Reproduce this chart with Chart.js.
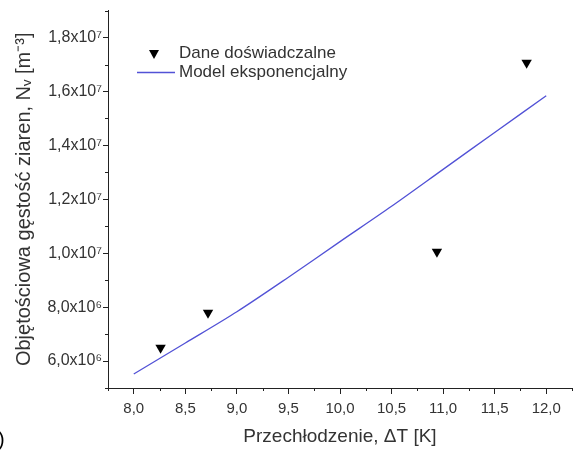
<!DOCTYPE html>
<html>
<head>
<meta charset="utf-8">
<script src="https://cdn.jsdelivr.net/npm/chart.js@4"></script>
<style>
  html, body { margin: 0; padding: 0; background: #fff; }
  #wrap { width: 578px; height: 451px; }
</style>
</head>
<body>
<div id="wrap"><canvas id="myChart"></canvas></div>
<script>
// measured points
const expX = [8.26, 8.72, 10.94, 11.81];
const expY = [6.49e6, 7.79e6, 1.005e7, 1.707e7];

// fitted model curve
const modelX = [8.0, 8.5, 9.0, 9.5, 10.0, 10.5, 11.0, 11.5, 12.0];
const modelY = [5.52e6, 6.67e6, 7.83e6, 9.11e6, 1.043e7, 1.174e7, 1.311e7, 1.448e7, 1.584e7];

const xTicks = [8.0, 8.5, 9.0, 9.5, 10.0, 10.5, 11.0, 11.5, 12.0];
const xMinor = [7.75, 8.25, 8.75, 9.25, 9.75, 10.25, 10.75, 11.25, 11.75, 12.25];
const yTicks = [6e6, 8e6, 1e7, 1.2e7, 1.4e7, 1.6e7, 1.8e7];
const yTickLabels = ['6,0x10⁶', '8,0x10⁶', '1,0x10⁷', '1,2x10⁷', '1,4x10⁷', '1,6x10⁷', '1,8x10⁷'];
const yMinor = [5e6, 7e6, 9e6, 1.1e7, 1.3e7, 1.5e7, 1.7e7, 1.9e7];

const seriesNames = ['Dane doświadczalne', 'Model eksponencjalny'];

const fontFam = '"Liberation Sans", Arial, sans-serif';
const axisColor = '#222';
const textColor = '#333';
const lineColor = '#5252d6';

const extras = {
  id: 'extras',
  afterDraw(chart) {
    const c = chart.ctx;
    const xs = chart.scales.x, ys = chart.scales.y;
    const a = chart.chartArea;
    c.save();
    c.strokeStyle = axisColor;
    c.lineWidth = 1;
    // minor ticks
    c.beginPath();
    xMinor.forEach(v => {
      const px = Math.round(xs.getPixelForValue(v)) + 0.5;
      c.moveTo(px, a.bottom); c.lineTo(px, a.bottom + 3);
    });
    yMinor.forEach(v => {
      const py = Math.round(ys.getPixelForValue(v)) + 0.5;
      c.moveTo(a.left, py); c.lineTo(a.left - 3, py);
    });
    c.stroke();

    // legend
    c.font = '17px ' + fontFam;
    c.textBaseline = 'middle';
    c.textAlign = 'left';
    const tx = 154, ty = 54;
    c.fillStyle = '#000';
    c.beginPath();
    c.moveTo(tx - 5, ty - 4);
    c.lineTo(tx + 5, ty - 4);
    c.lineTo(tx, ty + 5);
    c.closePath();
    c.fill();
    c.fillStyle = textColor;
    c.fillText(seriesNames[0], 179, 53);
    c.strokeStyle = lineColor;
    c.lineWidth = 1.3;
    c.beginPath();
    c.moveTo(137, 72.5); c.lineTo(175, 72.5);
    c.stroke();
    c.fillText(seriesNames[1], 179, 72);

    // cut-off panel label
    c.font = '20px ' + fontFam;
    c.fillStyle = '#000';
    c.fillText(')', -2, 440);
    c.restore();
  }
};

function drawChart() {
  const ctx = document.getElementById('myChart');

  new Chart(ctx, {
    type: 'scatter',
    data: {
      datasets: [{
        label: seriesNames[0],
        data: expX.map((x, i) => ({x: x, y: expY[i]})),
        pointStyle: 'triangle',
        rotation: 180,
        pointRadius: 6,
        backgroundColor: '#000',
        borderColor: '#000',
        borderWidth: 0,
        showLine: false
      }, {
        label: seriesNames[1],
        data: modelX.map((x, i) => ({x: x, y: modelY[i]})),
        showLine: true,
        borderColor: lineColor,
        borderWidth: 1.3,
        pointRadius: 0,
        tension: 0.3,
        fill: false
      }]
    },
    options: {
      responsive: true,
      maintainAspectRatio: false,
      animation: false,
      layout: { padding: { left: 0, top: 10, right: 5, bottom: 0 } },
      plugins: {
        legend: { display: false },
        tooltip: { enabled: false }
      },
      scales: {
        x: {
          type: 'linear',
          min: 7.75,
          max: 12.25,
          afterBuildTicks: s => { s.ticks = xTicks.map(v => ({value: v})); },
          afterFit: s => { s.height = 63; },
          border: { color: axisColor, width: 1 },
          grid: { drawOnChartArea: false, drawTicks: true, tickLength: 6, color: axisColor },
          ticks: {
            padding: 6,
            color: textColor,
            font: { family: fontFam, size: 15 },
            maxRotation: 0,
            callback: v => v.toFixed(1).replace('.', ',')
          },
          title: {
            display: true,
            text: 'Przechłodzenie, ΔT [K]',
            color: textColor,
            font: { family: fontFam, size: 19 },
            padding: { top: 0, bottom: 3 }
          }
        },
        y: {
          type: 'linear',
          min: 5e6,
          max: 1.9e7,
          afterBuildTicks: s => { s.ticks = yTicks.map(v => ({value: v})); },
          afterFit: s => { s.width = 108; },
          border: { color: axisColor, width: 1 },
          grid: { drawOnChartArea: false, drawTicks: true, tickLength: 5, color: axisColor },
          ticks: {
            padding: 1,
            color: textColor,
            font: { family: fontFam, size: 16 },
            callback: (v, i) => yTickLabels[i]
          },
          title: {
            display: true,
            text: 'Objętościowa gęstość ziaren, Nᵥ [m⁻³]',
            color: textColor,
            font: { family: fontFam, size: 20 },
            padding: { top: 12, bottom: 0 }
          }
        }
      }
    },
    plugins: [extras]
  });
}

drawChart();
</script>
</body>
</html>
